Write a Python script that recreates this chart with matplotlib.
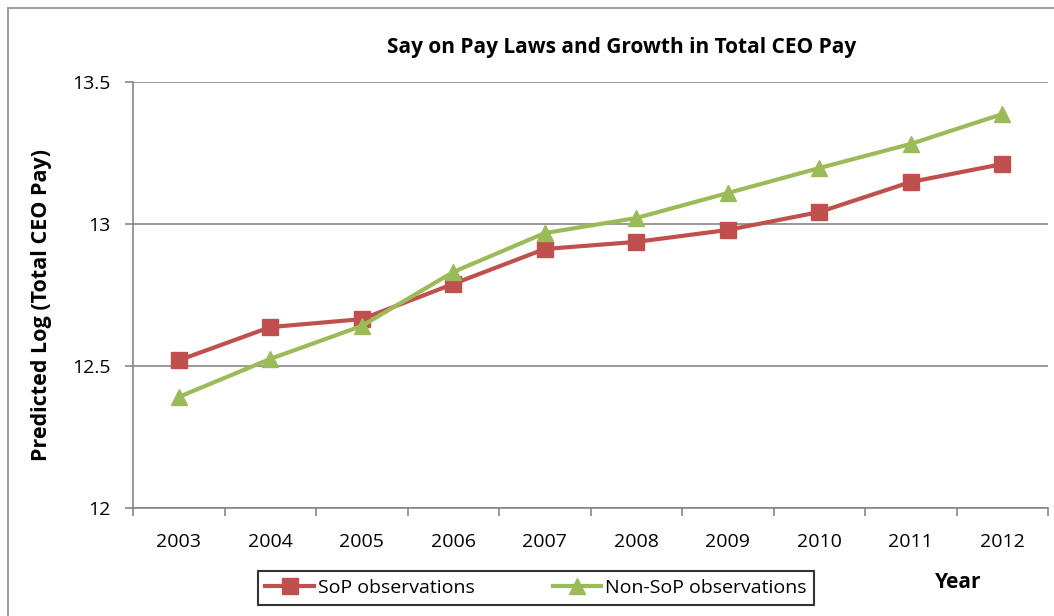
import matplotlib.pyplot as plt
from matplotlib.patches import Rectangle

years = ["2003", "2004", "2005", "2006", "2007", "2008", "2009", "2010", "2011", "2012"]
sop = [12.52, 12.637, 12.665, 12.789, 12.912, 12.937, 12.979, 13.042, 13.148, 13.211]
non_sop = [12.391, 12.525, 12.641, 12.831, 12.968, 13.021, 13.109, 13.197, 13.282, 13.387]
yticks = [12, 12.5, 13, 13.5]
ytick_labels = ["12", "12.5", "13", "13.5"]

plt.rcParams['font.family'] = ['Open Sans', 'DejaVu Sans']

fig = plt.figure(figsize=(10.54, 6.16), dpi=100)
ax = fig.add_axes([133/1054, 1-508/616, (1048-133)/1054, (508-82)/616])

x = list(range(len(years)))
red = '#C0504D'
green = '#9BBB59'
ax.plot(x, sop, '-', color=red, lw=3, marker='s', ms=11, zorder=3, label="SoP observations")
ax.plot(x, non_sop, '-', color=green, lw=3, marker='^', ms=12, zorder=3, label="Non-SoP observations")

ax.set_xlim(-0.5, len(years) - 0.5)
ax.set_ylim(12, 13.5)
ax.set_yticks(yticks)
ax.set_yticklabels(ytick_labels, fontsize=14)
ax.set_xticks(x)
ax.set_xticklabels(years, fontsize=14)
ax.set_xticks([i - 0.5 for i in range(len(years) + 1)], minor=True)
ax.tick_params(axis='x', which='major', length=0, pad=18)
ax.tick_params(axis='x', which='minor', length=6, color='#868686', width=1.2)
ax.tick_params(axis='y', length=6, color='#868686', width=1.2, pad=10)
ax.grid(axis='y', color='#868686', lw=1.2)
for s in ['top', 'right']:
    ax.spines[s].set_visible(False)
for s in ['left', 'bottom']:
    ax.spines[s].set_color('#868686')
    ax.spines[s].set_linewidth(1.2)

fig.text(622/1054, 1-48/616, "Say on Pay Laws and Growth in Total CEO Pay",
         ha='center', va='center', fontsize=15, fontweight='bold')
fig.text(42/1054, 1-305/616, "Predicted Log (Total CEO Pay)", rotation=90,
         ha='center', va='center', fontsize=15.5, fontweight='bold')
fig.text(958/1054, 1-583/616, "Year", ha='center', va='center', fontsize=15, fontweight='bold')

leg = fig.legend(loc='center', bbox_to_anchor=(536/1054, 1-588/616), ncol=2, fontsize=14,
                 frameon=True, fancybox=False, edgecolor='black', handlelength=2.5,
                 columnspacing=4, handletextpad=0.2, borderpad=0.4)
leg.get_frame().set_linewidth(1.5)

fig.patches.append(Rectangle((8/1054, -0.1), 1.2, 1-8/616+0.1, transform=fig.transFigure,
                             fill=False, edgecolor='#A0A0A0', lw=1.5))

fig.savefig("out.png", dpi=100)
